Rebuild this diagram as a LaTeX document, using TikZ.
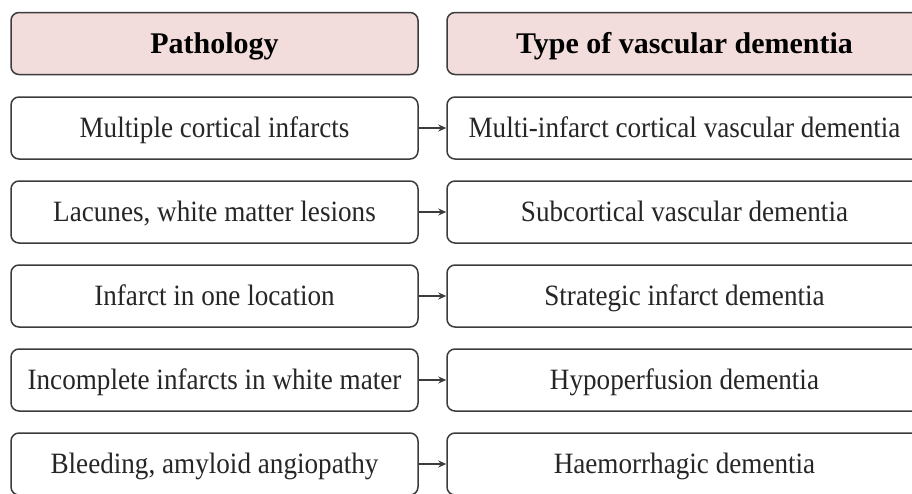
\documentclass[tikz,border=0pt]{standalone}
\usepackage{fontspec}
\setmainfont{Liberation Serif}
\newfontfamily\stretchserif[FakeStretch=0.92]{Liberation Serif}
\usetikzlibrary{arrows.meta}
\definecolor{headpink}{RGB}{242,221,220}
\definecolor{boxline}{RGB}{60,60,60}
\tikzset{
  box/.style={draw=boxline, line width=1.5pt, rounded corners=8pt, fill=white,
    minimum height=62pt, inner sep=0pt, text=black!85,
    text height=21pt, text depth=2pt,
    font=\stretchserif\fontsize{29.5}{32}\selectfont},
  leftbox/.style={box, minimum width=407pt},
  rightbox/.style={box, minimum width=475pt},
  headbox/.style={fill=headpink, text=black,
    font=\fontsize{30}{33}\selectfont\bfseries},
  link/.style={-{Stealth[length=8pt,width=7pt]}, line width=1.3pt, draw=boxline}
}
\begin{document}
\begin{tikzpicture}[x=1pt,y=1pt]
\useasboundingbox (0,0) rectangle (912,-493);
\clip (0,0) rectangle (912,-493);
\fill[white] (0,0) rectangle (912,-493);
% Header row
\node[leftbox, headbox] (hpath) at (214.5,-43.5) {Pathology};
\node[rightbox, headbox] (htype) at (684.5,-43.5) {Type of vascular dementia};
% Pathology column
\node[leftbox] (p1) at (214.5,-128) {Multiple cortical infarcts};
\node[leftbox] (p2) at (214.5,-212) {Lacunes, white matter lesions};
\node[leftbox] (p3) at (214.5,-296) {Infarct in one location};
\node[leftbox] (p4) at (214.5,-380) {Incomplete infarcts in white mater};
\node[leftbox] (p5) at (214.5,-464) {Bleeding, amyloid angiopathy};
% Type column
\node[rightbox] (t1) at (684.5,-128) {Multi-infarct cortical vascular dementia};
\node[rightbox] (t2) at (684.5,-212) {Subcortical vascular dementia};
\node[rightbox] (t3) at (684.5,-296) {Strategic infarct dementia};
\node[rightbox] (t4) at (684.5,-380) {Hypoperfusion dementia};
\node[rightbox] (t5) at (684.5,-464) {Haemorrhagic dementia};
% Arrows
\draw[link] (p1) -- (t1);
\draw[link] (p2) -- (t2);
\draw[link] (p3) -- (t3);
\draw[link] (p4) -- (t4);
\draw[link] (p5) -- (t5);
\end{tikzpicture}
\end{document}
